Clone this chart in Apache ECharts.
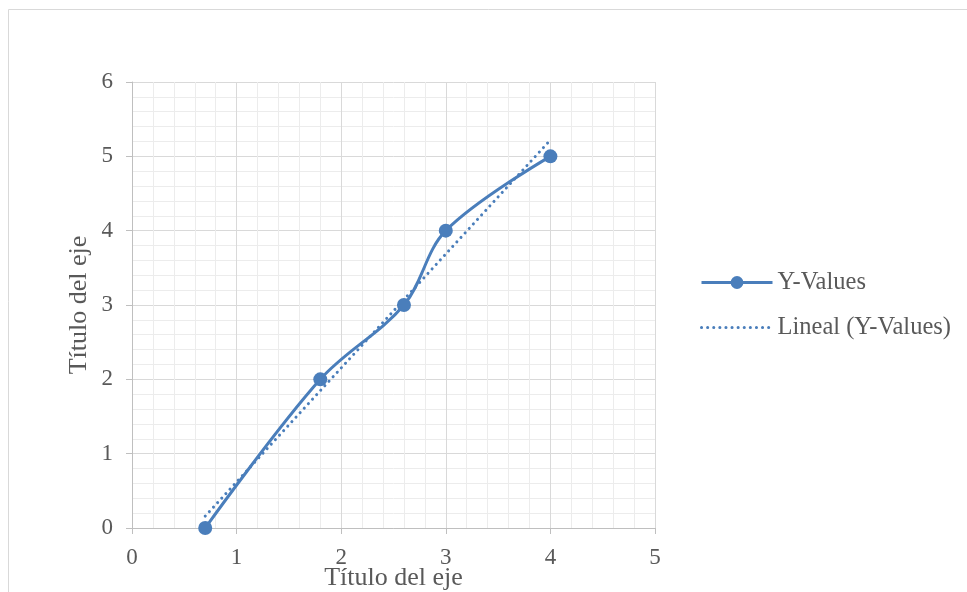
<!DOCTYPE html>
<html><head><meta charset="utf-8">
<script src="https://cdn.jsdelivr.net/npm/echarts@6/dist/echarts.min.js"></script>
<style>html,body{margin:0;padding:0;background:#fff}#c{width:967px;height:592px}</style>
</head><body><div id="c"></div>
<script>
const xValues = [0.7, 1.8, 2.6, 3, 4];
const yValues = [0, 2, 3, 4, 5];
const trendX = [0.7, 4];
const trendY = [0.16, 5.22];
const seriesName = 'Y-Values';
const trendName = 'Lineal (Y-Values)';
const axisTitle = 'Título del eje';

const blue = '#4a7ebb';
const font = 'Liberation Serif';
const chart = echarts.init(document.getElementById('c'));
chart.setOption({
  animation: false,
  graphic: [{type:'rect', shape:{x:8.5,y:9.5,width:1100,height:1100}, style:{fill:'none', stroke:'#d9d9d9', lineWidth:1}}],
  grid: {left:132, right:312, top:82, bottom:64, outerBoundsMode:'none', containLabel:false},
  legend: {
    orient:'vertical', left:700, top:270, padding:0, itemWidth:71, itemHeight:16, itemGap:20,
    textStyle:{fontFamily:font, fontSize:24.5, color:'#595959'},
    lineStyle:{width:3},
    data:[{name:seriesName}, {name:trendName, itemStyle:{opacity:0}}]
  },
  xAxis: {
    type:'value', min:0, max:5, interval:1,
    name: axisTitle, nameLocation:'middle', nameGap:37, nameMoveOverlap:false,
    nameTextStyle:{fontFamily:font, fontSize:26, color:'#595959'},
    axisLine:{show:true, onZero:false, lineStyle:{color:'#bfbfbf'}},
    axisTick:{show:true, length:6, lineStyle:{color:'#bfbfbf'}},
    axisLabel:{fontFamily:font, fontSize:23, color:'#595959', margin:18},
    splitLine:{show:true, lineStyle:{color:'#d9d9d9'}},
    minorTick:{show:false, splitNumber:5},
    minorSplitLine:{show:true, lineStyle:{color:'#ececec'}}
  },
  yAxis: {
    type:'value', min:0, max:6, interval:1,
    name: axisTitle, nameLocation:'middle', nameGap:40, nameRotate:90, nameMoveOverlap:false,
    nameTextStyle:{fontFamily:font, fontSize:26, color:'#595959'},
    axisLine:{show:true, onZero:false, lineStyle:{color:'#bfbfbf'}},
    axisTick:{show:true, length:6, lineStyle:{color:'#bfbfbf'}},
    axisLabel:{fontFamily:font, fontSize:23, color:'#595959', margin:19},
    splitLine:{show:true, lineStyle:{color:'#d9d9d9'}},
    minorTick:{show:false, splitNumber:5},
    minorSplitLine:{show:true, lineStyle:{color:'#ececec'}}
  },
  series: [
    {
      name: trendName, type:'line', symbol:'none', z:2,
      data: trendX.map((x,i)=>[x, trendY[i]]),
      itemStyle:{color:blue},
      lineStyle:{color:blue, width:3, type:[0.1,6], cap:'round'}
    },
    {
      name: seriesName, type:'line', smooth:0.35, z:3,
      symbol:'circle', symbolSize:14,
      data: xValues.map((x,i)=>[x, yValues[i]]),
      itemStyle:{color:blue},
      lineStyle:{color:blue, width:3}
    }
  ]
});
</script></body></html>
